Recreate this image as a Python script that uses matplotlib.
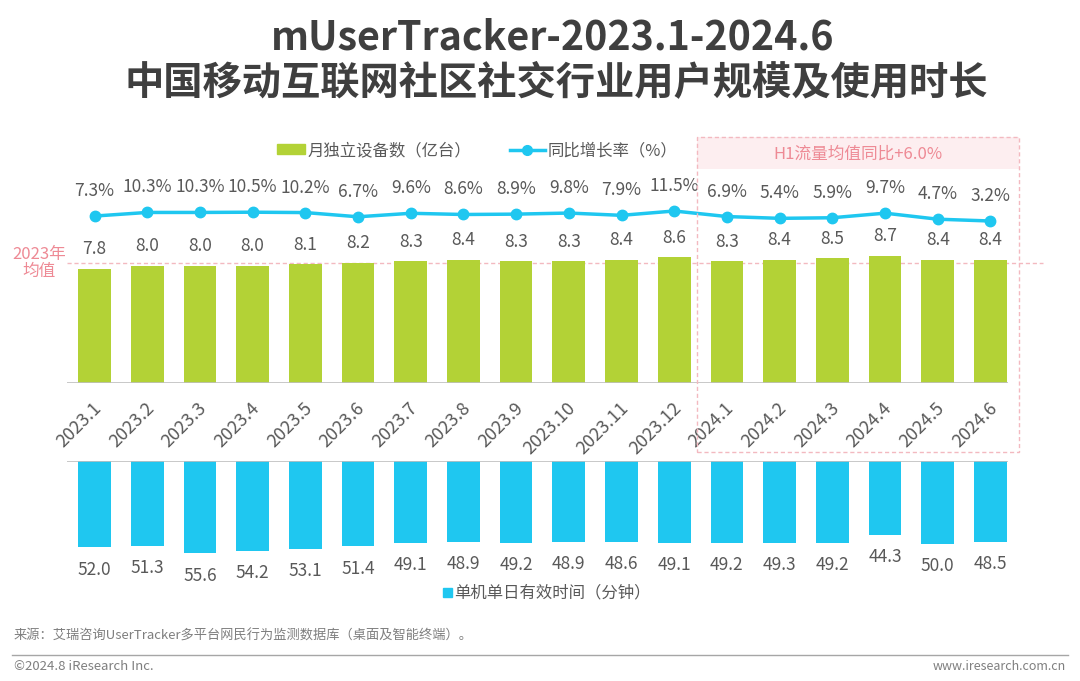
import numpy as np
import matplotlib
matplotlib.use("Agg")
import matplotlib.pyplot as plt
from matplotlib.patches import Rectangle
from matplotlib.lines import Line2D

plt.rcParams["font.family"] = ["Noto Sans CJK SC", "DejaVu Sans"]

# ---------------------------------------------------------------------------
# Data
# ---------------------------------------------------------------------------
months = ["2023.1", "2023.2", "2023.3", "2023.4", "2023.5", "2023.6",
          "2023.7", "2023.8", "2023.9", "2023.10", "2023.11", "2023.12",
          "2024.1", "2024.2", "2024.3", "2024.4", "2024.5", "2024.6"]
devices = [7.8, 8.0, 8.0, 8.0, 8.1, 8.2, 8.3, 8.4, 8.3, 8.3, 8.4, 8.6,
           8.3, 8.4, 8.5, 8.7, 8.4, 8.4]                     # 亿台
growth = [7.3, 10.3, 10.3, 10.5, 10.2, 6.7, 9.6, 8.6, 8.9, 9.8, 7.9, 11.5,
          6.9, 5.4, 5.9, 9.7, 4.7, 3.2]                      # %
minutes = [52.0, 51.3, 55.6, 54.2, 53.1, 51.4, 49.1, 48.9, 49.2, 48.9, 48.6,
           49.1, 49.2, 49.3, 49.2, 44.3, 50.0, 48.5]         # 分钟
h1_note = "H1流量均值同比+6.0%"

GREEN = "#B3D236"
CYAN = "#1FC7F0"
PINK = "#EE8A95"
PINK_LINE = "#F3B9C0"
TEXT = "#595959"

W, H = 1080, 681
def fx(px):
    return px / W
def fy(py):
    return 1 - py / H

x = np.arange(len(months))
avg_2023 = np.mean(devices[:12])

fig = plt.figure(figsize=(10.8, 6.81), dpi=100)

# ---------------------------------------------------------------------------
# Top: device bars + growth line
# ---------------------------------------------------------------------------
ax_l, ax_r = 67, 1008
x0, dx = 94.5, 52.7
xlim = ((ax_l - x0) / dx, (ax_r - x0) / dx)

ax = fig.add_axes([fx(ax_l), fy(383), fx(ax_r - ax_l), (383 - 130) / H])
ax.bar(x, devices, width=0.62, color=GREEN, zorder=2)
ax.set_xlim(*xlim)
ax.set_ylim(0, 253 / 14.65)
for s in ax.spines.values():
    s.set_visible(False)
ax.axhline(0, color="#BFBFBF", lw=1.2, zorder=3)
ax.axhline(avg_2023, xmin=0, xmax=(1043 - ax_l) / (ax_r - ax_l), color=PINK_LINE,
           lw=1, ls=(0, (3, 2)), clip_on=False, zorder=1)
ax.set_yticks([])
ax.set_xticks(x + 0.08)
ax.set_xticklabels(months, rotation=45, ha="right", va="center",
                   rotation_mode="anchor", fontsize=13, color=TEXT)
ax.tick_params(axis="x", length=0, pad=16)
for xi, v in zip(x, devices):
    ax.annotate(f"{v:.1f}", (xi, v), xytext=(0, 14), textcoords="offset points",
                ha="center", va="center", fontsize=12.5, color=TEXT)

ax2 = ax.twinx()
ax2.set_ylim(-131.2, 78.7)
ax2.plot(x, growth, color=CYAN, lw=2.5, marker="o", ms=7.5, zorder=4)
ax2.set_yticks([])
for s in ax2.spines.values():
    s.set_visible(False)
for xi, v in zip(x, growth):
    ax2.annotate(f"{v:.1f}%", (xi, v), xytext=(0, 18), textcoords="offset points",
                 ha="center", va="center", fontsize=12.5, color=TEXT)

# ---------------------------------------------------------------------------
# Bottom: daily minutes (inverted bars)
# ---------------------------------------------------------------------------
bx = fig.add_axes([fx(ax_l), fy(600), fx(ax_r - ax_l), (600 - 461) / H])
bx.bar(x, minutes, width=0.62, color=CYAN, zorder=2)
bx.set_xlim(*xlim)
bx.set_ylim(139 / 1.66, 0)
for s in bx.spines.values():
    s.set_visible(False)
bx.axhline(0, color="#BFBFBF", lw=1.2, zorder=3)
bx.set_xticks([])
bx.set_yticks([])
for xi, v in zip(x, minutes):
    bx.annotate(f"{v:.1f}", (xi, v), xytext=(0, -16), textcoords="offset points",
                ha="center", va="center", fontsize=12.5, color=TEXT)

# ---------------------------------------------------------------------------
# Annotations: 2023 average label, H1 box
# ---------------------------------------------------------------------------
fig.text(fx(39), fy(263), "2023年\n均值", ha="center", va="center",
         fontsize=12, color=PINK, linespacing=1.0)

fig.patches.append(Rectangle((fx(697), fy(169)), fx(1019 - 697), (169 - 137) / H,
                             transform=fig.transFigure, facecolor="#FDEEF0",
                             edgecolor="none", zorder=0))
fig.patches.append(Rectangle((fx(697), fy(452)), fx(1019 - 697), (452 - 137) / H,
                             transform=fig.transFigure, facecolor="none",
                             edgecolor=PINK_LINE, lw=1, ls=(0, (3, 2)), zorder=0))
fig.text(fx(858), fy(154), h1_note, ha="center", va="center",
         fontsize=12, color=PINK)

# ---------------------------------------------------------------------------
# Legends
# ---------------------------------------------------------------------------
fig.patches.append(Rectangle((fx(277), fy(154)), fx(28), 10 / H,
                             transform=fig.transFigure, color=GREEN))
fig.text(fx(308), fy(151), "月独立设备数（亿台）", ha="left", va="center",
         fontsize=11.8, color=TEXT)
fig.lines.append(Line2D([fx(510), fx(545)], [fy(150), fy(150)],
                        transform=fig.transFigure, color=CYAN, lw=2.5))
fig.lines.append(Line2D([fx(527)], [fy(150)], transform=fig.transFigure,
                        color=CYAN, marker="o", ms=7))
fig.text(fx(548), fy(151), "同比增长率（%）", ha="left", va="center",
         fontsize=11.8, color=TEXT)

fig.patches.append(Rectangle((fx(443), fy(597)), fx(9), 9 / H,
                             transform=fig.transFigure, color=CYAN))
fig.text(fx(454), fy(593), "单机单日有效时间（分钟）", ha="left", va="center",
         fontsize=11.8, color=TEXT)

# ---------------------------------------------------------------------------
# Title and footer
# ---------------------------------------------------------------------------
fig.text(fx(553), fy(38), "mUserTracker-2023.1-2024.6", ha="center", va="center",
         fontsize=28.4, fontweight="bold", color="#3F3F3F")
fig.text(fx(556), fy(83), "中国移动互联网社区社交行业用户规模及使用时长",
         ha="center", va="center", fontsize=28.3, fontweight="bold", color="#3F3F3F")

fig.text(fx(14), fy(636), "来源：艾瑞咨询UserTracker多平台网民行为监测数据库（桌面及智能终端）。",
         ha="left", va="center", fontsize=9.5, color="#7F7F7F")
fig.lines.append(Line2D([fx(12), fx(1068)], [fy(655), fy(655)],
                        transform=fig.transFigure, color="#A6A6A6", lw=1))
fig.text(fx(14), fy(666), "©2024.8 iResearch Inc.", ha="left", va="center",
         fontsize=9.5, color="#7F7F7F")
fig.text(fx(1066), fy(666), "www.iresearch.com.cn", ha="right", va="center",
         fontsize=9, color="#7F7F7F")

fig.savefig("out.png", dpi=100)
